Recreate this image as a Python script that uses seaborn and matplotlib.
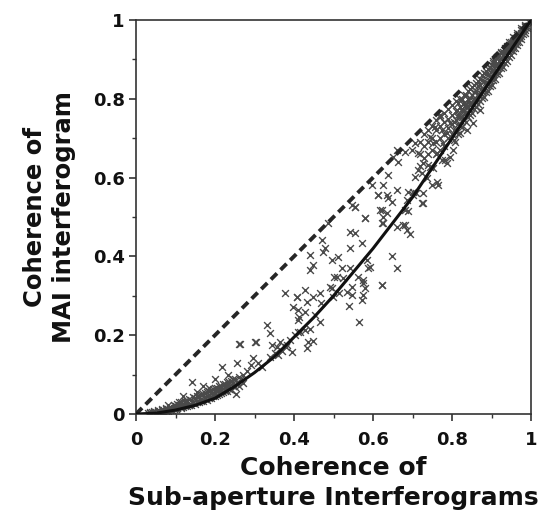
import matplotlib
matplotlib.use("Agg")
import matplotlib.pyplot as plt
import seaborn as sns
import pandas as pd
from matplotlib.ticker import MultipleLocator, FixedLocator

# ---------------- data ----------------
curve_x = [0.0, 0.05, 0.1, 0.15, 0.2, 0.25, 0.3, 0.35, 0.4, 0.45, 0.5,
           0.55, 0.6, 0.65, 0.7, 0.75, 0.8, 0.85, 0.9, 0.95, 1.0]
curve_y = [0.0, 0.002, 0.01, 0.022, 0.04, 0.07, 0.105, 0.145, 0.195, 0.245, 0.30,
           0.36, 0.42, 0.485, 0.55, 0.625, 0.70, 0.775, 0.85, 0.925, 1.0]

diag_x = [0.0, 1.0]
diag_y = [0.0, 1.0]

# low-coherence band
low_x = [0.03, 0.04, 0.05, 0.055, 0.06, 0.065, 0.07, 0.075, 0.08, 0.085, 0.09, 0.095,
         0.10, 0.10, 0.105, 0.11, 0.115, 0.12, 0.12, 0.125, 0.13, 0.13, 0.135, 0.14,
         0.14, 0.145, 0.15, 0.15, 0.155, 0.16, 0.16, 0.165, 0.17, 0.17, 0.175, 0.18,
         0.18, 0.185, 0.19, 0.19, 0.195, 0.20, 0.20, 0.205, 0.21, 0.21, 0.215, 0.22,
         0.22, 0.225, 0.23, 0.23, 0.235, 0.24, 0.24, 0.245, 0.25, 0.25, 0.255, 0.26,
         0.26, 0.265, 0.27, 0.27, 0.142, 0.218, 0.255, 0.253, 0.20, 0.17, 0.12, 0.08,
         0.11, 0.155, 0.185, 0.232]
low_y = [0.002, 0.004, 0.003, 0.008, 0.005, 0.01, 0.006, 0.012, 0.008, 0.014, 0.01, 0.016,
         0.012, 0.02, 0.015, 0.022, 0.014, 0.025, 0.018, 0.028, 0.02, 0.032, 0.024, 0.035,
         0.022, 0.03, 0.04, 0.026, 0.034, 0.045, 0.03, 0.038, 0.05, 0.034, 0.042, 0.055,
         0.036, 0.047, 0.06, 0.04, 0.052, 0.065, 0.045, 0.058, 0.07, 0.05, 0.062, 0.075,
         0.055, 0.068, 0.08, 0.058, 0.072, 0.085, 0.062, 0.078, 0.09, 0.068, 0.082, 0.095,
         0.072, 0.088, 0.10, 0.078, 0.082, 0.12, 0.13, 0.051, 0.09, 0.07, 0.045, 0.022,
         0.03, 0.055, 0.066, 0.1]

low2_x = [0.035, 0.045, 0.055, 0.065, 0.075, 0.085, 0.095, 0.105, 0.115, 0.125, 0.135,
          0.145, 0.155, 0.165, 0.175, 0.185, 0.195, 0.205, 0.215, 0.225, 0.235, 0.245,
          0.035, 0.045, 0.055, 0.065, 0.075, 0.085, 0.095, 0.105, 0.115, 0.125, 0.135,
          0.145, 0.155, 0.165, 0.175, 0.185, 0.195, 0.205, 0.215, 0.225, 0.235, 0.245]
low2_y = [0.006, 0.008, 0.01, 0.013, 0.016, 0.019, 0.022, 0.026, 0.03, 0.034, 0.038,
          0.042, 0.046, 0.05, 0.054, 0.058, 0.063, 0.067, 0.072, 0.077, 0.082, 0.088,
          0.003, 0.004, 0.005, 0.006, 0.008, 0.01, 0.012, 0.015, 0.018, 0.021, 0.024,
          0.027, 0.03, 0.033, 0.037, 0.041, 0.045, 0.049, 0.054, 0.059, 0.064, 0.07]

# intermediate coherence (scattered)
mid_x = [0.263, 0.301, 0.331, 0.338, 0.344, 0.356, 0.365, 0.377, 0.408, 0.432, 0.398,
         0.411, 0.428, 0.411, 0.415, 0.428, 0.403, 0.390, 0.436, 0.432, 0.394, 0.352,
         0.382, 0.297, 0.304, 0.262, 0.28, 0.29, 0.31, 0.32, 0.34, 0.36, 0.37, 0.38,
         0.597, 0.613, 0.635, 0.546, 0.554, 0.618, 0.580, 0.626, 0.622, 0.487, 0.470,
         0.542, 0.554, 0.571, 0.542, 0.474, 0.478, 0.441, 0.495, 0.512, 0.449, 0.441,
         0.521, 0.542, 0.584, 0.588, 0.508, 0.525, 0.563, 0.575, 0.546, 0.580, 0.622,
         0.495, 0.428, 0.407, 0.449, 0.466, 0.546, 0.575, 0.499, 0.564, 0.573, 0.575,
         0.592, 0.622, 0.647, 0.662, 0.447, 0.453, 0.466, 0.441, 0.411, 0.413, 0.468,
         0.491, 0.515, 0.500, 0.540, 0.535]
mid_y = [0.178, 0.184, 0.226, 0.205, 0.175, 0.171, 0.184, 0.306, 0.298, 0.285, 0.272,
         0.264, 0.260, 0.239, 0.209, 0.213, 0.200, 0.188, 0.184, 0.167, 0.158, 0.154,
         0.175, 0.141, 0.182, 0.177, 0.11, 0.125, 0.13, 0.12, 0.145, 0.15, 0.16, 0.17,
         0.581, 0.556, 0.556, 0.530, 0.526, 0.518, 0.497, 0.501, 0.484, 0.484, 0.442,
         0.463, 0.459, 0.433, 0.421, 0.412, 0.421, 0.404, 0.391, 0.399, 0.378, 0.365,
         0.370, 0.370, 0.391, 0.370, 0.348, 0.344, 0.348, 0.340, 0.323, 0.319, 0.327,
         0.319, 0.315, 0.298, 0.298, 0.306, 0.302, 0.302, 0.298, 0.234, 0.289, 0.332,
         0.374, 0.327, 0.401, 0.371, 0.186, 0.251, 0.234, 0.217, 0.209, 0.247, 0.281,
         0.323, 0.306, 0.348, 0.275, 0.31]

# upper-intermediate coherence
up_x = [0.770, 0.757, 0.774, 0.787, 0.795, 0.744, 0.706, 0.660, 0.681, 0.698, 0.715,
        0.753, 0.761, 0.778, 0.664, 0.651, 0.727, 0.740, 0.715, 0.723, 0.753, 0.774,
        0.787, 0.795, 0.803, 0.706, 0.736, 0.639, 0.626, 0.761, 0.765, 0.749, 0.660,
        0.689, 0.702, 0.727, 0.613, 0.639, 0.647, 0.685, 0.723, 0.554, 0.622, 0.635,
        0.681, 0.580, 0.626, 0.660, 0.681, 0.685, 0.694, 0.677, 0.689, 0.727, 0.710,
        0.702, 0.744, 0.782, 0.808, 0.820, 0.837, 0.854, 0.871, 0.846, 0.829, 0.812]
up_y = [0.759, 0.729, 0.721, 0.712, 0.738, 0.704, 0.687, 0.670, 0.666, 0.670, 0.662,
        0.687, 0.662, 0.687, 0.640, 0.653, 0.636, 0.632, 0.619, 0.611, 0.624, 0.645,
        0.636, 0.653, 0.670, 0.602, 0.598, 0.607, 0.581, 0.590, 0.581, 0.581, 0.569,
        0.564, 0.556, 0.560, 0.556, 0.547, 0.539, 0.543, 0.535, 0.526, 0.518, 0.509,
        0.518, 0.497, 0.484, 0.475, 0.480, 0.466, 0.457, 0.479, 0.514, 0.535, 0.560,
        0.564, 0.627, 0.645, 0.691, 0.712, 0.721, 0.738, 0.772, 0.772, 0.788, 0.772]

# high-coherence dense band
high_x = [0.72, 0.72, 0.72, 0.73, 0.73, 0.73, 0.74, 0.74, 0.74, 0.75, 0.75, 0.75,
          0.76, 0.76, 0.76, 0.76, 0.77, 0.77, 0.77, 0.77, 0.78, 0.78, 0.78, 0.78,
          0.79, 0.79, 0.79, 0.79, 0.80, 0.80, 0.80, 0.80, 0.81, 0.81, 0.81, 0.81,
          0.82, 0.82, 0.82, 0.82, 0.83, 0.83, 0.83, 0.83, 0.84, 0.84, 0.84, 0.84,
          0.85, 0.85, 0.85, 0.85, 0.86, 0.86, 0.86, 0.86, 0.87, 0.87, 0.87, 0.87,
          0.88, 0.88, 0.88, 0.88, 0.89, 0.89, 0.89, 0.89, 0.90, 0.90, 0.90, 0.90,
          0.91, 0.91, 0.91, 0.91, 0.92, 0.92, 0.92, 0.92, 0.93, 0.93, 0.93, 0.93,
          0.94, 0.94, 0.94, 0.94, 0.95, 0.95, 0.95, 0.95, 0.96, 0.96, 0.96, 0.96,
          0.97, 0.97, 0.97, 0.98, 0.98, 0.98, 0.99, 0.99, 1.0,
          0.815, 0.825, 0.835, 0.845, 0.855, 0.865, 0.875, 0.885, 0.895, 0.905,
          0.915, 0.925, 0.935, 0.945, 0.955, 0.965, 0.975, 0.985,
          0.815, 0.825, 0.835, 0.845, 0.855, 0.865, 0.875, 0.885, 0.895, 0.905,
          0.915, 0.925, 0.935, 0.945, 0.955, 0.965, 0.975, 0.985]
high_y = [0.63, 0.66, 0.69, 0.65, 0.68, 0.71, 0.66, 0.69, 0.72, 0.67, 0.70, 0.73,
          0.66, 0.69, 0.72, 0.745, 0.67, 0.70, 0.73, 0.755, 0.68, 0.71, 0.74, 0.765,
          0.70, 0.725, 0.75, 0.775, 0.71, 0.735, 0.76, 0.785, 0.72, 0.745, 0.77, 0.795,
          0.73, 0.755, 0.78, 0.80, 0.745, 0.77, 0.79, 0.81, 0.755, 0.78, 0.80, 0.82,
          0.765, 0.79, 0.81, 0.83, 0.78, 0.80, 0.82, 0.84, 0.795, 0.815, 0.835, 0.85,
          0.805, 0.825, 0.845, 0.865, 0.82, 0.84, 0.86, 0.875, 0.835, 0.855, 0.87, 0.885,
          0.85, 0.87, 0.885, 0.895, 0.865, 0.88, 0.895, 0.91, 0.88, 0.895, 0.91, 0.92,
          0.895, 0.91, 0.925, 0.935, 0.91, 0.925, 0.94, 0.945, 0.93, 0.94, 0.95, 0.955,
          0.945, 0.955, 0.965, 0.965, 0.972, 0.978, 0.98, 0.986, 0.995,
          0.76, 0.77, 0.78, 0.79, 0.80, 0.81, 0.82, 0.835, 0.845, 0.86,
          0.87, 0.885, 0.90, 0.915, 0.93, 0.945, 0.96, 0.975,
          0.79, 0.80, 0.81, 0.825, 0.835, 0.845, 0.86, 0.87, 0.88, 0.895,
          0.905, 0.915, 0.925, 0.935, 0.945, 0.958, 0.968, 0.982]

high2_x = [0.805, 0.815, 0.825, 0.835, 0.845, 0.855, 0.865, 0.875, 0.885, 0.895,
           0.905, 0.915, 0.925, 0.935, 0.945, 0.955, 0.965, 0.975, 0.985, 0.995,
           0.805, 0.815, 0.825, 0.835, 0.845, 0.855, 0.865, 0.875, 0.885, 0.895,
           0.905, 0.915, 0.925, 0.935, 0.945, 0.955, 0.965, 0.975, 0.985,
           0.805, 0.815, 0.825, 0.835, 0.845, 0.855, 0.865, 0.875, 0.885, 0.895,
           0.905, 0.915, 0.925, 0.935, 0.945, 0.955, 0.965, 0.975, 0.985]
high2_y = [0.72, 0.735, 0.753, 0.767, 0.783, 0.798, 0.812, 0.827, 0.842, 0.857,
           0.872, 0.887, 0.902, 0.917, 0.932, 0.947, 0.962, 0.975, 0.985, 0.996,
           0.74, 0.755, 0.773, 0.787, 0.803, 0.818, 0.832, 0.847, 0.862, 0.877,
           0.892, 0.905, 0.918, 0.93, 0.943, 0.956, 0.968, 0.979, 0.988,
           0.695, 0.71, 0.728, 0.742, 0.758, 0.773, 0.787, 0.802, 0.817, 0.832,
           0.847, 0.862, 0.877, 0.892, 0.907, 0.922, 0.937, 0.952, 0.967]

x_ticks = [0, 0.2, 0.4, 0.6, 0.8, 1]
x_tick_labels = ["0", "0.2", "0.4", "0.6", "0.8", "1"]
y_ticks = [0, 0.2, 0.4, 0.6, 0.8, 1]
y_tick_labels = ["0", "0.2", "0.4", "0.6", "0.8", "1"]
x_label = "Coherence of\nSub-aperture Interferograms"
y_label = "Coherence of\nMAI interferogram"

# ---------------- drawing ----------------
sns.set_style("white")
plt.rcParams['font.family'] = ['DejaVu Sans']
plt.rcParams['font.weight'] = 'bold'
plt.rcParams['text.color'] = '#111111'
plt.rcParams['axes.labelcolor'] = '#111111'
plt.rcParams['xtick.color'] = '#111111'
plt.rcParams['ytick.color'] = '#111111'

scatter_df = pd.DataFrame({
    "sub": low_x + low2_x + mid_x + up_x + high_x + high2_x,
    "mai": low_y + low2_y + mid_y + up_y + high_y + high2_y,
})

fig = plt.figure(figsize=(5.55, 5.2), dpi=100)
ax = fig.add_axes([136 / 555, 1 - 414 / 520, 395 / 555, 394 / 520])

sns.scatterplot(data=scatter_df, x="sub", y="mai", marker="x", s=24,
                color="#4a4a4a", linewidth=1.0, ax=ax, zorder=2)
sns.lineplot(x=diag_x, y=diag_y, color="#262626", linewidth=2.8,
             linestyle=(0, (2.2, 1.3)), ax=ax, zorder=3)
sns.lineplot(x=curve_x, y=curve_y, color="#111111", linewidth=2.2, ax=ax,
             zorder=4, sort=False)

ax.set_xlim(0, 1)
ax.set_ylim(0, 1)
ax.xaxis.set_major_locator(FixedLocator(x_ticks))
ax.yaxis.set_major_locator(FixedLocator(y_ticks))
ax.set_xticklabels(x_tick_labels, fontsize=13, fontweight="bold", color="#111111")
ax.set_yticklabels(y_tick_labels, fontsize=13, fontweight="bold", color="#111111")
ax.xaxis.set_minor_locator(MultipleLocator(0.1))
ax.yaxis.set_minor_locator(MultipleLocator(0.1))
ax.tick_params(axis="both", which="major", direction="out", length=5, width=1.2,
               color="#333333", bottom=True, left=True, top=False, right=False)
ax.tick_params(axis="both", which="minor", direction="out", length=3, width=1.0,
               color="#333333", bottom=True, left=True, top=False, right=False)
ax.tick_params(axis="x", which="major", pad=7)
ax.tick_params(axis="y", which="major", pad=3)

for sp in ax.spines.values():
    sp.set_visible(True)
    sp.set_linewidth(1.2)
    sp.set_color("#333333")

ax.set_xlabel(x_label, fontsize=18, fontweight="bold", linespacing=1.35,
              labelpad=5, color="#111111")
ax.set_ylabel(y_label, fontsize=17.5, fontweight="bold", linespacing=1.25,
              labelpad=12, color="#111111")

fig.savefig("out.png", dpi=100)
